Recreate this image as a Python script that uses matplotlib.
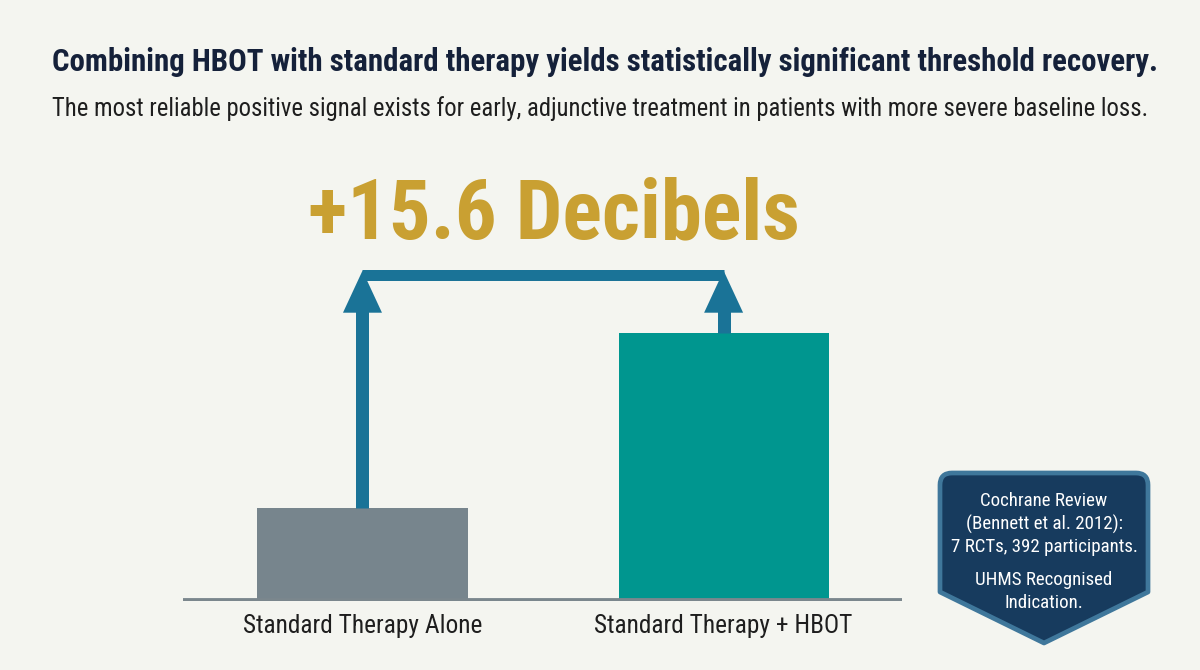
import matplotlib
matplotlib.use("Agg")
import matplotlib.pyplot as plt
from matplotlib import font_manager as fm
from matplotlib.path import Path
from matplotlib.patches import PathPatch

# ---------------- data ----------------
categories = ["Standard Therapy Alone", "Standard Therapy + HBOT"]
values = [8.2, 23.8]          # hearing threshold recovery (dB)
bar_colors = ["#77858D", "#00968F"]
title = "Combining HBOT with standard therapy yields statistically significant threshold recovery."
subtitle = "The most reliable positive signal exists for early, adjunctive treatment in patients with more severe baseline loss."
badge_lines_1 = ["Cochrane Review", "(Bennett et al. 2012):", "7 RCTs, 392 participants."]
badge_lines_2 = ["UHMS Recognised", "Indication."]
unit = "Decibels"

# ---------------- fonts ----------------
entries = fm.fontManager.ttflist
names = {f.name for f in entries}
FONT = "Roboto"
STRETCH = "normal"
if "Roboto Condensed" in names:
    FONT = "Roboto Condensed"
elif any(f.name == "Roboto" and str(f.stretch) in ("condensed", "semi-condensed", "75", "87.5") for f in entries):
    FONT = "Roboto"; STRETCH = "condensed"
elif "Liberation Sans Narrow" in names:
    FONT = "Liberation Sans Narrow"
plt.rcParams["font.family"] = [FONT, "DejaVu Sans"]

BG = "#F4F5F0"
NAVY = "#15213A"
GOLD = "#C9A032"
ARROW = "#1A7397"
BASE = "#7B878D"

W, H = 1200, 670
fig = plt.figure(figsize=(12, 6.7), dpi=100, facecolor=BG)

# ---------------- chart axes ----------------
base_px_from_top = 600.5
ax_left, ax_right = 183, 902
ax_top = 150
ax = fig.add_axes([ax_left / W, (H - base_px_from_top) / H,
                   (ax_right - ax_left) / W, (base_px_from_top - ax_top) / H])
ax.set_facecolor("none")
xmin, xmax = -0.497, 1.494
ymax = 40.1
ax.set_xlim(xmin, xmax)
ax.set_ylim(0, ymax)
px_x = (ax_right - ax_left) / (xmax - xmin)
px_y = (base_px_from_top - ax_top) / ymax

xs = list(range(len(values)))
ax.bar(xs, values, width=0.582, color=bar_colors, zorder=2)
ax.axhline(0, color=BASE, lw=4.2, zorder=3, solid_capstyle="butt")
for s in ax.spines.values():
    s.set_visible(False)
ax.set_yticks([])
ax.set_xticks(xs)
ax.set_xticklabels(categories, fontsize=18.3, color="#1E1E1E", fontstretch=STRETCH)
ax.tick_params(axis="x", length=0, pad=10)

# difference arrows
level = max(values) + 5.2
head_h = 42 / px_y
head_w = 39 / px_x
tip = level + 4 / px_y
for x, v in zip(xs, values):
    ax.plot([x, x], [v, tip - head_h + 0.2], color=ARROW, lw=13 * 0.72,
            solid_capstyle="butt", zorder=4, clip_on=False)
    ax.fill([x - head_w / 2, x + head_w / 2, x], [tip - head_h, tip - head_h, tip],
            color=ARROW, zorder=5, clip_on=False, lw=0)
ax.plot([xs[0], xs[-1]], [level, level], color=ARROW, lw=11 * 0.72,
        solid_capstyle="butt", zorder=4, clip_on=False)

# ---------------- overlay (pixel coordinates) ----------------
ov = fig.add_axes([0, 0, 1, 1])
ov.set_xlim(0, W)
ov.set_ylim(H, 0)
ov.axis("off")
ov.patch.set_visible(False)

ov.text(52, 62, title, fontsize=22.2, fontweight="bold", color=NAVY,
        va="center", ha="left", fontstretch=STRETCH)
ov.text(52, 109, subtitle, fontsize=17.7, color="#1E1E1E",
        va="center", ha="left", fontstretch=STRETCH)

diff = values[1] - values[0]
ov.text(554, 216, f"+{diff:.1f} {unit}", fontsize=59.5, fontweight="bold", color=GOLD,
        va="center", ha="center", fontstretch=STRETCH)

# badge
L, R, T, Bs, Bp, r = 940, 1148, 473, 592, 643, 12
cx = (L + R) / 2
verts = [(L + r, T), (R - r, T), (R, T), (R, T + r), (R, Bs), (cx, Bp), (L, Bs),
         (L, T + r), (L, T), (L + r, T), (L + r, T)]
codes = [Path.MOVETO, Path.LINETO, Path.CURVE3, Path.CURVE3, Path.LINETO, Path.LINETO,
         Path.LINETO, Path.LINETO, Path.CURVE3, Path.CURVE3, Path.CLOSEPOLY]
ov.add_patch(PathPatch(Path(verts, codes), facecolor="#173B5E", edgecolor="#3F779B",
                       lw=3.4, joinstyle="round"))
for i, line in enumerate(badge_lines_1):
    ov.text(cx, 501 + i * 23, line, fontsize=13.6, color="white", ha="center",
            va="center", fontstretch=STRETCH)
for i, line in enumerate(badge_lines_2):
    ov.text(cx, 580 + i * 23.5, line, fontsize=13.6, color="white", ha="center",
            va="center", fontstretch=STRETCH)

fig.savefig("out.png", dpi=100, facecolor=BG)
